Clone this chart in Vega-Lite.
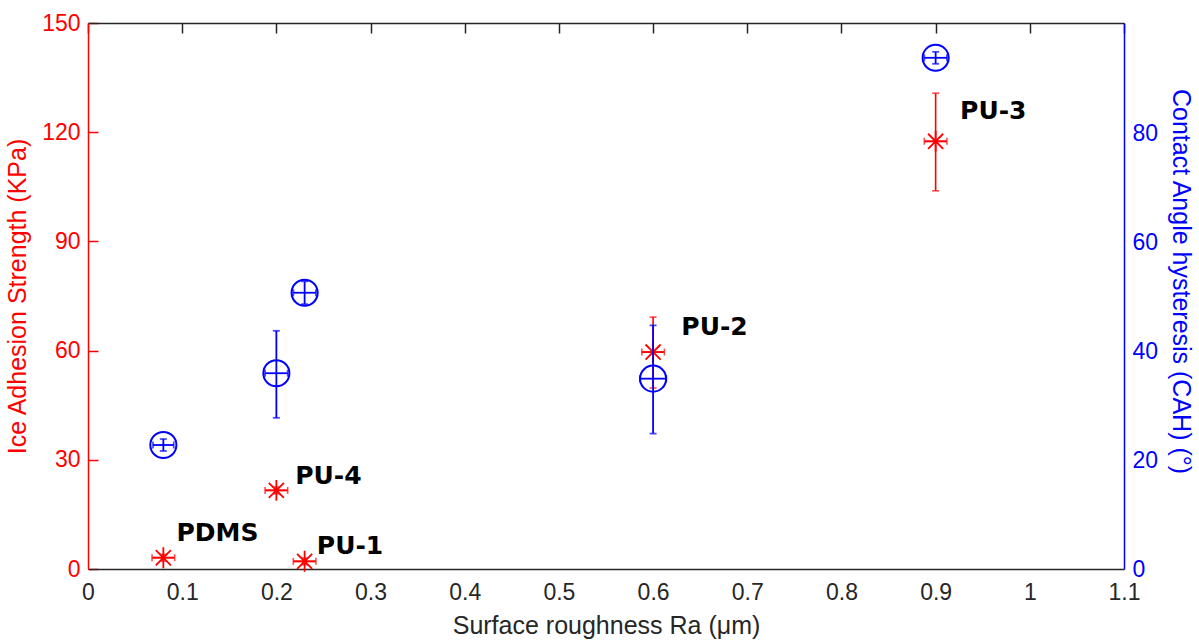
{
  "$schema": "https://vega.github.io/schema/vega-lite/v6.json",
  "width": 1036,
  "height": 546,
  "autosize": "none",
  "padding": {"left": 88, "top": 23, "right": 75, "bottom": 73},
  "background": "white",
  "config": {
    "view": {"stroke": null},
    "font": "Liberation Sans",
    "axis": {"grid": true, "gridDash": [10, 3000], "gridWidth": 1.5, "gridOpacity": 1, "ticks": false, "labelFlush": false, "labelOverlap": false, "labelFont": "Liberation Sans", "titleFont": "Liberation Sans", "labelFontSize": 23, "titleFontSize": 25, "titleFontWeight": "normal", "domainWidth": 1.5},
    "axisLeft": {"domainColor": "#FF0000", "gridColor": "#FF0000", "labelColor": "#FF0000", "titleColor": "#FF0000", "labelPadding": 8, "titlePadding": 11},
    "axisRight": {"domainColor": "#0000FF", "gridColor": "#0000FF", "labelColor": "#0000FF", "titleColor": "#0000FF", "labelPadding": 8, "titlePadding": 10, "titleY": 258},
    "axisBottom": {"domainColor": "#262626", "gridColor": "#262626", "labelColor": "#262626", "titleColor": "#262626", "labelPadding": 12, "titlePadding": 9},
    "axisTop": {"domainColor": "#262626", "gridColor": "#262626"}
  },
  "datasets": {
    "ice": [
      {"sample": "PDMS", "x": 0.08, "xlo": 0.068, "xhi": 0.092, "y": 3.1, "ylo": 2.2, "yhi": 4.0, "labelX": 0.094, "labelY": 9.8},
      {"sample": "PU-4", "x": 0.2, "xlo": 0.188, "xhi": 0.212, "y": 21.6, "ylo": 20.7, "yhi": 22.5, "labelX": 0.22, "labelY": 25.5},
      {"sample": "PU-1", "x": 0.23, "xlo": 0.218, "xhi": 0.242, "y": 2.1, "ylo": 1.2, "yhi": 3.0, "labelX": 0.243, "labelY": 6.2},
      {"sample": "PU-2", "x": 0.6, "xlo": 0.588, "xhi": 0.612, "y": 59.6, "ylo": 49.7, "yhi": 69.2, "labelX": 0.63, "labelY": 66.4},
      {"sample": "PU-3", "x": 0.9, "xlo": 0.888, "xhi": 0.912, "y": 117.5, "ylo": 103.9, "yhi": 130.7, "labelX": 0.926, "labelY": 125.8}
    ],
    "cah": [
      {"sample": "PDMS", "x": 0.08, "xlo": 0.069, "xhi": 0.091, "y": 22.8, "ylo": 21.7, "yhi": 23.9},
      {"sample": "PU-4", "x": 0.2, "xlo": 0.188, "xhi": 0.212, "y": 36.0, "ylo": 27.8, "yhi": 43.8},
      {"sample": "PU-1", "x": 0.23, "xlo": 0.218, "xhi": 0.242, "y": 50.8, "ylo": 48.7, "yhi": 52.9},
      {"sample": "PU-2", "x": 0.6, "xlo": 0.586, "xhi": 0.614, "y": 35.0, "ylo": 24.9, "yhi": 44.8},
      {"sample": "PU-3", "x": 0.9, "xlo": 0.888, "xhi": 0.912, "y": 94.0, "ylo": 92.9, "yhi": 95.1}
    ]
  },
  "layer": [
    {
      "data": {"name": "ice"},
      "layer": [
        {
          "mark": {"type": "rule", "color": "#FF0000", "strokeWidth": 1.6},
          "encoding": {
            "x": {"field": "x", "type": "quantitative", "scale": {"domain": [0, 1.1], "nice": false}, "title": "Surface roughness Ra (μm)", "axis": {"orient": "bottom", "values": [0, 0.1, 0.2, 0.3, 0.4, 0.5, 0.6, 0.7, 0.8, 0.9, 1, 1.1], "format": ".1~f"}},
            "y": {"field": "ylo", "type": "quantitative", "scale": {"domain": [0, 150], "nice": false}, "title": "Ice Adhesion Strength (KPa)", "axis": {"orient": "left", "values": [0, 30, 60, 90, 120, 150]}},
            "y2": {"field": "yhi"}
          }
        },
        {
          "mark": {"type": "rule", "color": "#FF0000", "strokeWidth": 1.6},
          "encoding": {
            "x": {"field": "xlo", "type": "quantitative", "title": "Surface roughness Ra (μm)"},
            "x2": {"field": "xhi"},
            "y": {"field": "y", "type": "quantitative", "title": "Ice Adhesion Strength (KPa)"}
          }
        },
        {
          "mark": {"type": "tick", "orient": "horizontal", "color": "#FF0000", "size": 7, "thickness": 1.6},
          "encoding": {
            "x": {"field": "x", "type": "quantitative", "title": "Surface roughness Ra (μm)"},
            "y": {"field": "ylo", "type": "quantitative", "title": "Ice Adhesion Strength (KPa)"}
          }
        },
        {
          "mark": {"type": "tick", "orient": "horizontal", "color": "#FF0000", "size": 7, "thickness": 1.6},
          "encoding": {
            "x": {"field": "x", "type": "quantitative", "title": "Surface roughness Ra (μm)"},
            "y": {"field": "yhi", "type": "quantitative", "title": "Ice Adhesion Strength (KPa)"}
          }
        },
        {
          "mark": {"type": "tick", "orient": "vertical", "color": "#FF0000", "size": 7, "thickness": 1.6},
          "encoding": {
            "x": {"field": "xlo", "type": "quantitative", "title": "Surface roughness Ra (μm)"},
            "y": {"field": "y", "type": "quantitative", "title": "Ice Adhesion Strength (KPa)"}
          }
        },
        {
          "mark": {"type": "tick", "orient": "vertical", "color": "#FF0000", "size": 7, "thickness": 1.6},
          "encoding": {
            "x": {"field": "xhi", "type": "quantitative", "title": "Surface roughness Ra (μm)"},
            "y": {"field": "y", "type": "quantitative", "title": "Ice Adhesion Strength (KPa)"}
          }
        },
        {
          "mark": {"type": "point", "shape": "M-1,0L1,0M0,-1L0,1M-0.72,-0.72L0.72,0.72M-0.72,0.72L0.72,-0.72", "filled": false, "stroke": "#FF0000", "strokeWidth": 1.8, "size": 440, "opacity": 1},
          "encoding": {
            "x": {"field": "x", "type": "quantitative", "title": "Surface roughness Ra (μm)"},
            "y": {"field": "y", "type": "quantitative", "title": "Ice Adhesion Strength (KPa)"}
          }
        },
        {
          "mark": {"type": "text", "font": "DejaVu Sans", "fontWeight": "bold", "fontSize": 25, "align": "left", "baseline": "middle", "color": "black"},
          "encoding": {
            "x": {"field": "labelX", "type": "quantitative", "title": "Surface roughness Ra (μm)"},
            "y": {"field": "labelY", "type": "quantitative", "title": "Ice Adhesion Strength (KPa)"},
            "text": {"field": "sample"}
          }
        }
      ]
    },
    {
      "data": {"name": "cah"},
      "layer": [
        {
          "mark": {"type": "rule", "color": "#0000FF", "strokeWidth": 1.8},
          "encoding": {
            "x": {"field": "x", "type": "quantitative", "title": null, "axis": {"orient": "top", "labels": false, "values": [0, 0.1, 0.2, 0.3, 0.4, 0.5, 0.6, 0.7, 0.8, 0.9, 1, 1.1]}},
            "y": {"field": "ylo", "type": "quantitative", "scale": {"domain": [0, 100.4], "nice": false}, "title": "Contact Angle hysteresis (CAH) (°)", "axis": {"orient": "right", "values": [0, 20, 40, 60, 80]}},
            "y2": {"field": "yhi"}
          }
        },
        {
          "mark": {"type": "rule", "color": "#0000FF", "strokeWidth": 1.8},
          "encoding": {
            "x": {"field": "xlo", "type": "quantitative", "title": null, "axis": {"orient": "top"}},
            "x2": {"field": "xhi"},
            "y": {"field": "y", "type": "quantitative", "title": "Contact Angle hysteresis (CAH) (°)", "axis": {"orient": "right"}}
          }
        },
        {
          "mark": {"type": "tick", "orient": "horizontal", "color": "#0000FF", "size": 7, "thickness": 1.8},
          "encoding": {
            "x": {"field": "x", "type": "quantitative", "title": null, "axis": {"orient": "top"}},
            "y": {"field": "ylo", "type": "quantitative", "title": "Contact Angle hysteresis (CAH) (°)", "axis": {"orient": "right"}}
          }
        },
        {
          "mark": {"type": "tick", "orient": "horizontal", "color": "#0000FF", "size": 7, "thickness": 1.8},
          "encoding": {
            "x": {"field": "x", "type": "quantitative", "title": null, "axis": {"orient": "top"}},
            "y": {"field": "yhi", "type": "quantitative", "title": "Contact Angle hysteresis (CAH) (°)", "axis": {"orient": "right"}}
          }
        },
        {
          "mark": {"type": "tick", "orient": "vertical", "color": "#0000FF", "size": 7, "thickness": 1.8},
          "encoding": {
            "x": {"field": "xlo", "type": "quantitative", "title": null, "axis": {"orient": "top"}},
            "y": {"field": "y", "type": "quantitative", "title": "Contact Angle hysteresis (CAH) (°)", "axis": {"orient": "right"}}
          }
        },
        {
          "mark": {"type": "tick", "orient": "vertical", "color": "#0000FF", "size": 7, "thickness": 1.8},
          "encoding": {
            "x": {"field": "xhi", "type": "quantitative", "title": null, "axis": {"orient": "top"}},
            "y": {"field": "y", "type": "quantitative", "title": "Contact Angle hysteresis (CAH) (°)", "axis": {"orient": "right"}}
          }
        },
        {
          "mark": {"type": "point", "shape": "circle", "filled": false, "stroke": "#0000FF", "strokeWidth": 2, "size": 680, "opacity": 1},
          "encoding": {
            "x": {"field": "x", "type": "quantitative", "title": null, "axis": {"orient": "top"}},
            "y": {"field": "y", "type": "quantitative", "title": "Contact Angle hysteresis (CAH) (°)", "axis": {"orient": "right"}}
          }
        }
      ]
    }
  ],
  "resolve": {"scale": {"y": "independent"}, "axis": {"x": "independent", "y": "independent"}}
}
